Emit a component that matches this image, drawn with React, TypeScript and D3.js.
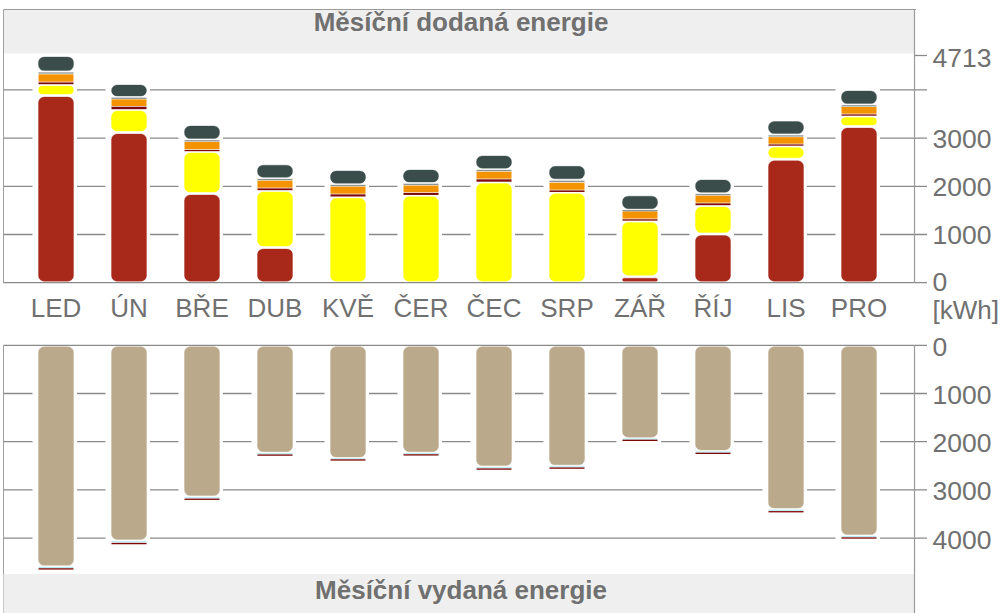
import React from "react";
import * as d3 from "d3";

const months = ["LED", "ÚN", "BŘE", "DUB", "KVĚ", "ČER", "ČEC", "SRP", "ZÁŘ", "ŘÍJ", "LIS", "PRO"];

// Měsíční dodaná energie (stacked bottom -> top)
const supRed = [3882, 3115, 1850, 730, 0, 0, 0, 0, 125, 1010, 2559, 3239];
const supYellow = [228, 477, 871, 1182, 1781, 1813, 2088, 1875, 1155, 591, 276, 218];
const supMaroon = [52, 66, 41, 52, 59, 58, 63, 47, 43, 52, 41, 42];
const supOrange = [168, 152, 166, 160, 161, 151, 159, 160, 164, 160, 150, 155];
const supGray = [40, 31, 31, 33, 31, 35, 35, 42, 17, 31, 37, 31];
const supSlate = [343, 290, 322, 311, 316, 311, 314, 321, 321, 317, 311, 322];

// Měsíční vydaná energie (stacked top -> down)
const outTan = [4596, 4058, 3147, 2238, 2348, 2238, 2526, 2509, 1936, 2201, 3408, 3956];
const outCyan = [27, 33, 31, 25, 14, 19, 27, 25, 19, 25, 25, 23];
const outMaroon = [31, 43, 31, 29, 33, 33, 29, 27, 33, 31, 39, 37];

const topTicks = [0, 1000, 2000, 3000, 4000];
const topLabels = ["0", "1000", "2000", "3000"];
const botTicks = [0, 1000, 2000, 3000, 4000];

const topSeries = [
  { values: supRed, color: "#a8291a", round: true },
  { values: supYellow, color: "#ffff00", round: true },
  { values: supMaroon, color: "#7d0a08", round: false },
  { values: supOrange, color: "#f39300", round: false },
  { values: supGray, color: "#8b9595", round: false },
  { values: supSlate, color: "#3a4d4b", round: true },
];
const botSeries = [
  { values: outTan, color: "#bba98c", round: true },
  { values: outCyan, color: "#b8ecf4", round: false },
  { values: outMaroon, color: "#800404", round: false },
];

const FONT = "'Liberation Sans', Arial, Helvetica, sans-serif";
const TXT = "#707070";

export default function App() {
  const W = 1001, H = 613;
  const axisX = 914.5;
  const leftX = 3.5;
  const topTotals = months.map((_, i) => topSeries.reduce((s, se) => s + se.values[i], 0));
  const maxTop = d3.max(topTotals) as number;
  const x = d3.scaleBand<string>().domain(months).range([19.5, 895.5]).padding(0);
  const yT = d3.scaleLinear().domain([0, maxTop]).range([282.7, 55.5]);
  const yB = d3.scaleLinear().domain([0, maxTop]).range([345.3, 572.5]);
  const barW = 35;

  const renderStack = (series: typeof topSeries, y: d3.ScaleLinear<number, number>, down: boolean, key: string) => {
    const out: React.ReactNode[] = [];
    months.forEach((m, i) => {
      const cx = (x(m) as number) + x.bandwidth() / 2;
      const left = cx - barW / 2;
      const total = series.reduce((s, se) => s + se.values[i], 0);
      const ya = y(0), yb = y(total);
      const y0 = Math.min(ya, yb), y1 = Math.max(ya, yb);
      out.push(
        <rect key={`${key}-bg-${i}`} x={left - 6} y={down ? y0 : y0 - 2} width={barW + 9.5} height={y1 - y0 + 2} fill="#fff" />
      );
      let cum = 0;
      series.forEach((se, si) => {
        const v = se.values[i];
        if (v <= 0) return;
        const p = y(cum), q = y(cum + v);
        cum += v;
        const a = Math.min(p, q), b = Math.max(p, q);
        const inset = se.round ? 1.5 : 0.35;
        let top = a + inset, h = b - a - 2 * inset;
        if (h < 1.3) { top = (a + b) / 2 - 0.65; h = 1.3; }
        const rx = se.round ? Math.min(5.5, h / 2) : 0;
        out.push(
          <rect key={`${key}-${i}-${si}`} x={left} y={top} width={barW} height={h} rx={rx} ry={rx}
            fill={se.color} stroke={se.round ? se.color : "none"} strokeOpacity={0.35} strokeWidth={1} />
        );
      });
    });
    return out;
  };

  return (
    <svg width={W} height={H} style={{ position: "absolute", left: 0, top: 0, background: "#fff" }} fontFamily={FONT}>
      {/* top title band */}
      <rect x={leftX} y={9.5} width={axisX - leftX} height={44} fill="#efefef" />
      <line x1={leftX} x2={916} y1={9.5} y2={9.5} stroke="#9a9a9a" strokeWidth={1} />
      <line x1={leftX} x2={leftX} y1={9.5} y2={283} stroke="#a0a0a0" strokeWidth={1} />
      <text x={(leftX + axisX) / 2 + 2} y={31} textAnchor="middle" fontSize={26} fontWeight="bold" fill={TXT}>Měsíční dodaná energie</text>

      {/* top gridlines and ticks */}
      {topTicks.filter((t) => t > 0).map((t) => (
        <line key={`tg${t}`} x1={leftX} x2={axisX + 12.5} y1={yT(t)} y2={yT(t)} stroke="#8a8a8a" strokeWidth={1.3} />
      ))}
      <line x1={axisX} x2={axisX + 12.5} y1={yT(maxTop)} y2={yT(maxTop)} stroke="#8a8a8a" strokeWidth={1.3} />
      {renderStack(topSeries, yT, false, "t")}
      <line x1={leftX} x2={axisX + 12.5} y1={yT(0)} y2={yT(0)} stroke="#8a8a8a" strokeWidth={1.3} />
      <line x1={axisX} x2={axisX} y1={9.5} y2={yT(0)} stroke="#9a9a9a" strokeWidth={1.2} />
      {topLabels.map((l, i) => (
        <text key={`tl${l}`} x={932.5} y={yT(topTicks[i]) - (i === 0 ? 1.5 : 0)} dy="0.36em" fontSize={26.5} fill={TXT}>{l}</text>
      ))}
      <text x={932.5} y={yT(maxTop) + 2} dy="0.36em" fontSize={26.5} fill={TXT}>{String(maxTop)}</text>

      {/* month labels */}
      {months.map((m) => (
        <text key={`m${m}`} x={(x(m) as number) + x.bandwidth() / 2} y={317} textAnchor="middle" fontSize={26} fill={TXT}>{m}</text>
      ))}
      <text x={932.5} y={319} fontSize={26} fill={TXT}>[kWh]</text>

      {/* bottom chart */}
      <line x1={leftX} x2={leftX} y1={345.3} y2={613} stroke="#a0a0a0" strokeWidth={1} />
      {botTicks.filter((t) => t > 0).map((t) => (
        <line key={`bg${t}`} x1={leftX} x2={axisX + 12.5} y1={yB(t)} y2={yB(t)} stroke="#8a8a8a" strokeWidth={1.3} />
      ))}
      {renderStack(botSeries, yB, true, "b")}
      <line x1={leftX} x2={axisX + 12.5} y1={yB(0)} y2={yB(0)} stroke="#8a8a8a" strokeWidth={1.3} />
      <rect x={leftX} y={574} width={axisX - leftX} height={39} fill="#efefef" />
      <line x1={axisX} x2={axisX} y1={yB(0)} y2={613} stroke="#9a9a9a" strokeWidth={1.2} />
      {botTicks.map((t) => (
        <text key={`bl${t}`} x={932.5} y={yB(t) + 1} dy="0.36em" fontSize={26.5} fill={TXT}>{String(t)}</text>
      ))}
      <text x={(leftX + axisX) / 2 + 2} y={599} textAnchor="middle" fontSize={26} fontWeight="bold" fill={TXT}>Měsíční vydaná energie</text>
    </svg>
  );
}
